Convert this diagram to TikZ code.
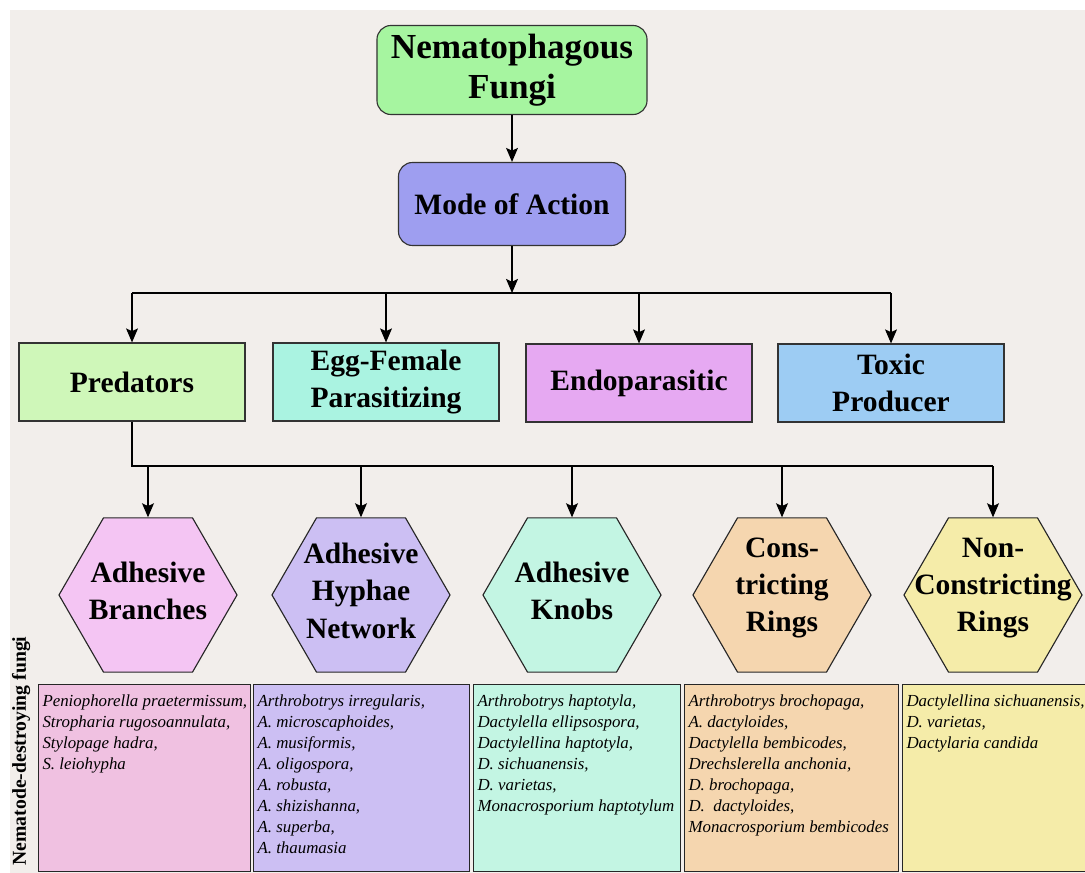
\documentclass[tikz,border=0pt]{standalone}
\usepackage{fontspec}
\setmainfont{Liberation Serif}
\usepackage{tikz}
\usetikzlibrary{shapes.geometric, arrows.meta}
\definecolor{bgcol}{HTML}{F2EEEB}
\definecolor{nemagreen}{HTML}{A6F5A0}
\definecolor{modeblue}{HTML}{9E9EF0}
\definecolor{predgreen}{HTML}{CFF7B9}
\definecolor{eggcyan}{HTML}{AAF3E1}
\definecolor{endopink}{HTML}{E6A9F2}
\definecolor{toxicblue}{HTML}{9DCCF3}
\definecolor{pinkc}{HTML}{F4C5F3}
\definecolor{lavc}{HTML}{CCBFF3}
\definecolor{mintc}{HTML}{C3F5E3}
\definecolor{peachc}{HTML}{F5D6AF}
\definecolor{yellc}{HTML}{F5ECA9}
\definecolor{pinkl}{HTML}{F0C1E1}
\tikzset{
    topbox/.style={draw=black!80, line width=0.8pt, rounded corners=10pt, align=center, inner sep=0pt, font=\bfseries\fontsize{21}{26}\selectfont},
    catbox/.style={draw=black!80, line width=0.8pt, minimum width=5.65cm, minimum height=1.95cm, align=center, inner sep=0pt, font=\bfseries\fontsize{21}{26}\selectfont},
    hexa/.style={draw=black!85, line width=0.8pt, regular polygon, regular polygon sides=6, minimum size=4.45cm, inner sep=0pt},
    hextext/.style={align=center, inner sep=0pt, font=\bfseries\fontsize{21}{26.5}\selectfont},
    listbox/.style={draw=black!85, line width=1pt, anchor=north west, inner sep=0pt, minimum height=4.675cm},
    listtext/.style={anchor=north west, align=left, inner xsep=3pt, inner ysep=7.5pt, font=\itshape\fontsize{12}{14.9}\selectfont},
    arr/.style={-{Stealth[length=10pt, width=8.5pt, inset=2pt]}, line width=0.8pt},
    bus/.style={line width=0.8pt}
}
\begin{document}
\begin{tikzpicture}[x=0.025cm, y=-0.025cm]
    \useasboundingbox (0,0) rectangle (1085,873);
    \fill[bgcol] (10,10) rectangle (1085,873);

    \node[topbox, fill=nemagreen, minimum width=6.75cm, minimum height=2.225cm, font=\bfseries\fontsize{25}{28.5}\selectfont] (nema) at (512,70) {Nematophagous\\Fungi};
    \node[topbox, fill=modeblue, minimum width=5.675cm, minimum height=2.075cm] (mode) at (512,204) {Mode of Action};
    \draw[arr] (nema) -- (mode);
    \coordinate (busa) at (512,293);
    \draw[arr] (mode) -- (busa);

    \node[catbox, fill=predgreen] (pred) at (132,382) {Predators};
    \node[catbox, fill=eggcyan] (egg) at (386,382) {Egg-Female\\Parasitizing};
    \node[catbox, fill=endopink] (endo) at (639,383) {Endoparasitic};
    \node[catbox, fill=toxicblue] (toxic) at (891,383) {Toxic\\Producer};
    \draw[bus] (pred |- busa) -- (toxic |- busa);
    \foreach \n in {pred,egg,endo,toxic}
        \draw[arr] (\n |- busa) -- (\n.north);

    \foreach \n/\x/\c in {hb/148/pinkc, hh/361/lavc, hk/572/mintc, hc/782/peachc, hn/993/yellc}
        \node[hexa, fill=\c] (\n) at (\x,595) {};
    \node[hextext] (tb) at ([yshift=3pt]hb.center) {Adhesive\\Branches};
    \node[hextext] (th) at ([yshift=3pt]hh.center) {Adhesive\\Hyphae\\Network};
    \node[hextext] (tk) at ([yshift=3pt]hk.center) {Adhesive\\Knobs};
    \node[hextext] (tc) at ([yshift=5pt]hc.center) {Cons-\\tricting\\Rings};
    \node[hextext] (tn) at ([yshift=5pt]hn.center) {Non-\\Constricting\\Rings};

    \coordinate (busb) at (132,466);
    \draw[bus] (pred) -- (busb) -- (hn |- busb);
    \foreach \n in {hb,hh,hk,hc,hn}
        \draw[arr] (\n |- busb) -- (\n.north);

    \node[rotate=90, font=\bfseries\fontsize{14}{16}\selectfont] (side) at (21,751) {Nematode-destroying fungi};

    \node[listbox, fill=pinkl, minimum width=5.3cm] (la) at (38,684) {};
    \node[listtext] (sa) at (la.north west) {Peniophorella praetermissum,\\Stropharia rugosoannulata,\\Stylopage hadra,\\S. leiohypha};
    \node[listbox, fill=lavc, minimum width=5.4cm] (lb) at (253,684) {};
    \node[listtext] (sb) at (lb.north west) {Arthrobotrys irregularis,\\A. microscaphoides,\\A. musiformis,\\A. oligospora,\\A. robusta,\\A. shizishanna,\\A. superba,\\A. thaumasia};
    \node[listbox, fill=mintc, minimum width=5.175cm] (lc) at (473,684) {};
    \node[listtext] (sc) at (lc.north west) {Arthrobotrys haptotyla,\\Dactylella ellipsospora,\\Dactylellina haptotyla,\\D. sichuanensis,\\D. varietas,\\Monacrosporium haptotylum};
    \node[listbox, fill=peachc, minimum width=5.35cm] (ld) at (684,684) {};
    \node[listtext] (sd) at (ld.north west) {Arthrobotrys brochopaga,\\A. dactyloides,\\Dactylella bembicodes,\\Drechslerella anchonia,\\D. brochopaga,\\D.\ \ dactyloides,\\Monacrosporium bembicodes};
    \node[listbox, fill=yellc, minimum width=4.8cm] (le) at (902,684) {};
    \node[listtext] (se) at (le.north west) {Dactylellina sichuanensis,\\D. varietas,\\Dactylaria candida};
\end{tikzpicture}
\end{document}
